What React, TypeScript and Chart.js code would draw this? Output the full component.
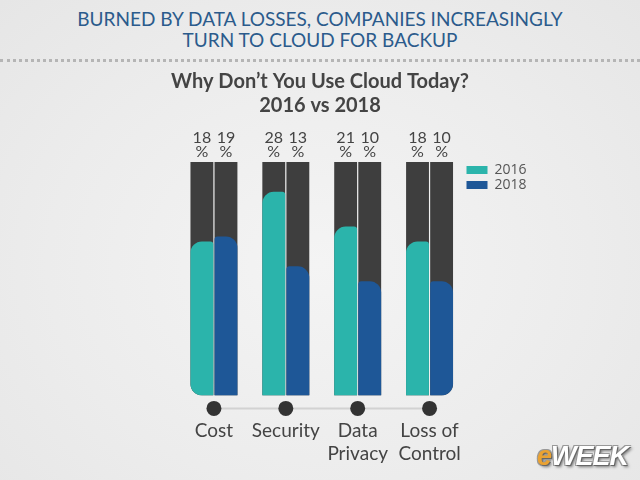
import React, { useEffect, useRef } from "react";
import { Chart, registerables } from "chart.js";

Chart.register(...registerables);

// ---- data ----
const categories: string[][] = [["Cost"], ["Security"], ["Data", "Privacy"], ["Loss of", "Control"]];
const seriesNames = ["2016", "2018"];
const values2016 = [18, 28, 21, 18];
const values2018 = [19, 13, 10, 10];
const AXIS_MIN = -13;
const AXIS_MAX = 34;

const headerLines = ["BURNED BY DATA LOSSES, COMPANIES INCREASINGLY", "TURN TO CLOUD FOR BACKUP"];
const chartTitle = ["Why Don\u2019t You Use Cloud Today?", "2016 vs 2018"];

// ---- styles ----
const TEAL = "#2bb4ab";
const BLUE = "#1e5797";
const GRAY = "#3e3e3e";
const TEXT = "#444444";
const COND = "Lato, Roboto, 'Open Sans', sans-serif";

const valueLabelPlugin = {
  id: "valueLabels",
  afterDatasetsDraw(chart: any) {
    const { ctx } = chart;
    const yScale = chart.scales.y;
    const top = yScale.getPixelForValue(AXIS_MAX);
    const sets = [values2016, values2018];
    ctx.save();
    ctx.fillStyle = TEXT;
    ctx.textAlign = "center";
    ctx.textBaseline = "middle";
    ctx.font = `16px ${COND}`;
    sets.forEach((vals, di) => {
      const meta = chart.getDatasetMeta(di);
      meta.data.forEach((el: any, i: number) => {
        ctx.fillText(String(vals[i]), el.x, top - 24);
        ctx.fillText("%", el.x, top - 10);
      });
    });
    ctx.restore();
  },
};

const dotsPlugin = {
  id: "axisDots",
  afterDraw(chart: any) {
    const { ctx, chartArea } = chart;
    const xScale = chart.scales.x;
    const y = chartArea.bottom + 13;
    const xs = categories.map((_, i) => xScale.getPixelForValue(i));
    ctx.save();
    ctx.strokeStyle = "#d2d2d2";
    ctx.lineWidth = 2;
    ctx.beginPath();
    ctx.moveTo(xs[0], y);
    ctx.lineTo(xs[xs.length - 1], y);
    ctx.stroke();
    ctx.fillStyle = "#333333";
    xs.forEach((px) => {
      ctx.beginPath();
      ctx.arc(px, y, 7.5, 0, Math.PI * 2);
      ctx.fill();
    });
    ctx.restore();
  },
};

export default function App() {
  const canvasRef = useRef<HTMLCanvasElement | null>(null);

  useEffect(() => {
    document.body.style.margin = "0";
    const canvas = canvasRef.current;
    if (!canvas) return;
    const last = categories.length - 1;
    const common = {
      barPercentage: 0.95,
      categoryPercentage: 0.67,
      borderWidth: 0,
      borderSkipped: false as const,
    };
    const chart = new Chart(canvas, {
      type: "bar",
      data: {
        labels: categories,
        datasets: [
          {
            ...common,
            label: seriesNames[0],
            data: values2016.map((v) => [AXIS_MIN, v]),
            backgroundColor: TEAL,
            stack: "a",
            order: 1,
            borderRadius: (c: any) => ({ topLeft: 12, topRight: 3, bottomLeft: c.dataIndex === 0 ? 12 : 0, bottomRight: 0 }),
          },
          {
            ...common,
            label: seriesNames[1],
            data: values2018.map((v) => [AXIS_MIN, v]),
            backgroundColor: BLUE,
            stack: "b",
            order: 1,
            borderRadius: (c: any) => ({ topLeft: 3, topRight: 12, bottomLeft: 0, bottomRight: c.dataIndex === last ? 12 : 0 }),
          },
          {
            ...common,
            label: "bg-" + seriesNames[0],
            data: values2016.map(() => [AXIS_MIN, AXIS_MAX]),
            backgroundColor: GRAY,
            stack: "a",
            order: 2,
            borderRadius: (c: any) => ({ topLeft: 0, topRight: 0, bottomLeft: c.dataIndex === 0 ? 12 : 0, bottomRight: 0 }),
          },
          {
            ...common,
            label: "bg-" + seriesNames[1],
            data: values2018.map(() => [AXIS_MIN, AXIS_MAX]),
            backgroundColor: GRAY,
            stack: "b",
            order: 2,
            borderRadius: (c: any) => ({ topLeft: 0, topRight: 0, bottomLeft: 0, bottomRight: c.dataIndex === last ? 12 : 0 }),
          },
        ] as any,
      },
      options: {
        animation: false,
        responsive: false,
        layout: { padding: { top: 70, bottom: -9, left: 0, right: 0 } },
        scales: {
          x: {
            stacked: true,
            offset: true,
            grid: { display: false, drawTicks: false },
            border: { display: false },
            ticks: {
              font: { family: COND, size: 19 },
              color: TEXT,
              padding: 24,
              maxRotation: 0,
              autoSkip: false,
            },
          },
          y: {
            stacked: false,
            min: AXIS_MIN,
            max: AXIS_MAX,
            grid: { display: false, drawTicks: false },
            border: { display: false },
            ticks: { display: false },
            afterFit: (s: any) => {
              s.width = 178;
            },
          },
          y2: {
            position: "right",
            weight: 2000,
            display: true,
            grid: { display: false, drawTicks: false },
            border: { display: false },
            ticks: { display: false },
            afterFit: (s: any) => {
              const lw = s.chart.legend ? s.chart.legend.width || 0 : 0;
              s.width = Math.max(0, 174.5 - lw);
            },
          },
        } as any,
        plugins: {
          title: {
            display: true,
            text: chartTitle,
            color: TEXT,
            font: { family: COND, size: 20, weight: "bold", lineHeight: 1.2 },
            padding: { top: 0, bottom: 44 },
          },
          legend: {
            position: "right",
            align: "start",
            fullSize: false,
            labels: {
              boxWidth: 21,
              boxHeight: 8,
              padding: 1,
              color: "#555555",
              font: { family: "'Open Sans', sans-serif", size: 14 },
              filter: (item: any) => item.datasetIndex < 2,
            },
          },
          tooltip: { enabled: false },
        },
      },
      plugins: [valueLabelPlugin, dotsPlugin],
    });
    return () => chart.destroy();
  }, []);

  return (
    <div
      style={{
        position: "relative",
        width: 640,
        height: 480,
        overflow: "hidden",
        background: "radial-gradient(ellipse at 50% 55%, #f4f4f4 0%, #ececec 60%, #e6e6e6 100%)",
      }}
    >
      <div
        style={{
          position: "absolute",
          left: 0,
          top: 0,
          width: 640,
          height: 62,
          borderBottom: "3px dotted #b5b5b5",
          boxSizing: "border-box",
          paddingTop: 8,
          textAlign: "center",
          fontFamily: "Lato, 'Open Sans', sans-serif",
          fontSize: 19,
          lineHeight: "21px",
          color: "#2b5b8c",
        }}
      >
        {headerLines.map((l, i) => (
          <div key={i}>{l}</div>
        ))}
      </div>
      <canvas ref={canvasRef} width={640} height={480} style={{ position: "absolute", left: 0, top: 0 }} />
      <div
        style={{
          position: "absolute",
          right: 12,
          bottom: 8,
          fontFamily: "'Liberation Sans', Arial, sans-serif",
          fontStyle: "italic",
          fontWeight: 900,
          fontSize: 27,
          letterSpacing: -1,
          textShadow: "1px 1px 0 #666, -1px -1px 0 #999, 1px -1px 0 #999, -1px 1px 0 #999, 2px 2px 3px rgba(0,0,0,0.5)",
        }}
      >
        <span style={{ color: "#eaa232" }}>e</span>
        <span style={{ color: "#ffffff" }}>WEEK</span>
      </div>
    </div>
  );
}
